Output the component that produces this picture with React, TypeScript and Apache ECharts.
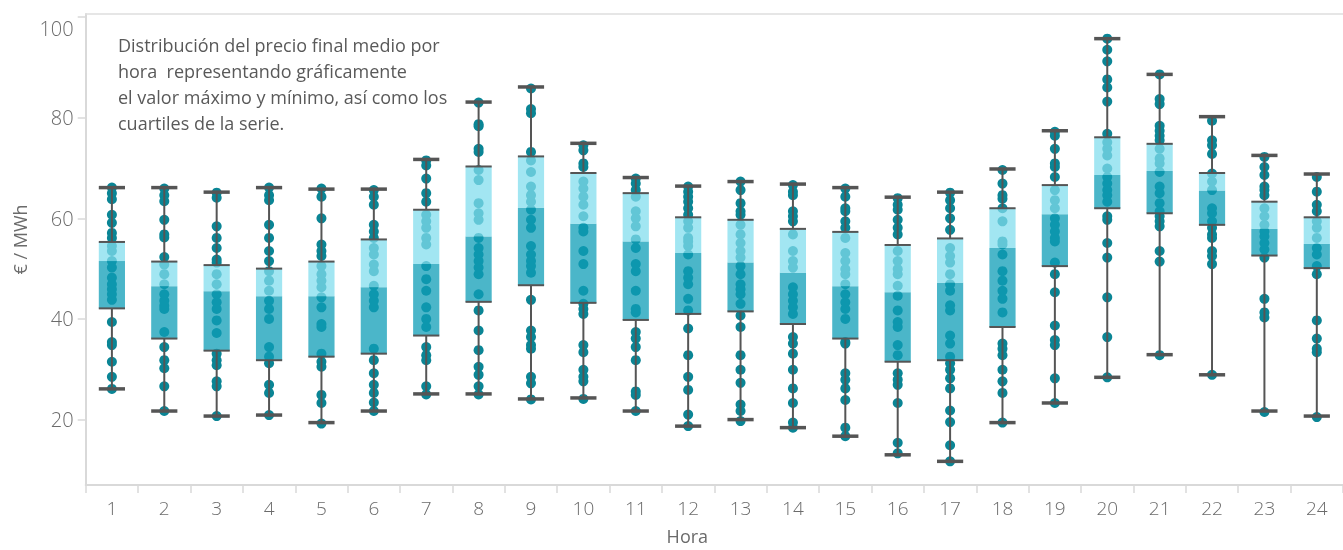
import React, { useEffect, useRef } from "react";
import * as echarts from "echarts";

const hours = ["1","2","3","4","5","6","7","8","9","10","11","12","13","14","15","16","17","18","19","20","21","22","23","24"];
const minVals = [26.1, 21.7, 20.7, 20.9, 19.4, 21.7, 25.1, 25.1, 24.1, 24.3, 21.7, 18.7, 20.0, 18.4, 16.7, 13.0, 11.7, 19.4, 23.3, 28.4, 32.9, 28.9, 21.7, 20.7];
const q1Vals = [42.1, 36.1, 33.7, 31.8, 32.5, 33.1, 36.7, 43.4, 46.7, 43.2, 39.8, 41.0, 41.5, 39.0, 36.1, 31.5, 31.8, 38.4, 50.5, 62.0, 61.0, 58.7, 52.6, 50.1];
const medianVals = [51.5, 46.5, 45.5, 44.5, 44.5, 46.3, 50.9, 56.4, 62.1, 58.9, 55.4, 53.1, 51.2, 49.2, 46.5, 45.3, 47.2, 54.1, 60.8, 68.6, 69.4, 65.5, 57.9, 54.9];
const q3Vals = [55.3, 51.4, 50.7, 50.0, 51.4, 55.8, 61.7, 70.3, 72.3, 69.0, 65.0, 60.2, 59.7, 57.9, 57.3, 54.7, 56.0, 62.0, 66.6, 76.1, 74.8, 69.0, 63.3, 60.2];
const maxVals = [66.1, 66.1, 65.2, 66.1, 65.8, 65.8, 71.7, 83.1, 86.1, 74.9, 68.1, 66.4, 67.3, 66.8, 66.1, 64.2, 65.2, 69.8, 77.4, 95.7, 88.6, 80.2, 72.5, 68.8];

const dotsByHour: number[][] = [
  [66.1, 65.0, 63.8, 60.7, 59.1, 57.1, 56.1, 54.5, 53.5, 51.5, 50.2, 48.2, 46.9, 45.9, 44.9, 43.8, 39.4, 35.4, 34.8, 31.5, 28.5, 26.1],
  [65.9, 64.6, 63.4, 59.7, 56.8, 56.2, 52.3, 50.8, 48.9, 46.9, 44.9, 43.6, 42.6, 42.0, 37.4, 34.4, 31.8, 30.2, 26.6, 21.7],
  [65.1, 64.1, 58.4, 56.1, 54.1, 51.8, 51.2, 48.9, 46.9, 44.9, 43.3, 42.0, 39.7, 37.2, 33.1, 31.8, 30.8, 27.6, 26.6, 20.7],
  [66.1, 64.6, 63.6, 58.7, 56.1, 53.5, 51.5, 49.5, 47.6, 45.6, 43.6, 42.0, 40.0, 34.4, 32.5, 31.2, 26.9, 25.3, 20.9],
  [65.9, 64.3, 60.0, 54.8, 53.5, 52.5, 50.5, 48.9, 47.6, 46.3, 44.3, 42.3, 39.0, 38.4, 33.1, 31.5, 30.5, 24.9, 23.3, 19.2],
  [65.6, 64.3, 62.7, 58.7, 57.4, 56.1, 54.1, 52.8, 50.8, 49.5, 46.6, 44.9, 43.6, 42.3, 34.1, 31.8, 29.2, 26.9, 25.3, 23.4, 21.7],
  [71.5, 70.5, 67.9, 65.0, 63.3, 60.7, 59.4, 58.1, 56.1, 54.8, 50.5, 47.9, 45.6, 42.3, 40.0, 38.4, 34.4, 32.8, 31.8, 26.6, 25.0],
  [83.0, 78.7, 78.3, 73.8, 73.2, 69.6, 67.6, 63.0, 61.0, 59.7, 56.1, 54.1, 52.8, 51.5, 50.2, 48.9, 44.9, 41.7, 37.7, 33.8, 30.5, 28.9, 26.6, 25.0],
  [85.8, 81.7, 80.9, 73.2, 71.5, 69.2, 66.3, 64.6, 63.3, 61.7, 59.7, 58.1, 54.5, 52.8, 51.5, 50.5, 49.2, 43.8, 37.7, 36.4, 34.8, 34.1, 28.5, 27.2, 24.0],
  [74.5, 73.5, 70.9, 70.2, 67.3, 65.9, 64.3, 62.7, 60.4, 58.1, 57.4, 53.5, 50.9, 45.6, 43.0, 42.0, 41.0, 34.8, 33.4, 29.9, 28.5, 27.6, 24.1],
  [67.9, 66.9, 65.6, 64.3, 61.4, 60.0, 58.4, 55.8, 54.1, 50.9, 49.5, 45.6, 42.0, 41.3, 37.4, 36.1, 34.4, 31.8, 25.6, 24.9, 21.7],
  [66.3, 65.3, 64.3, 63.3, 62.0, 60.7, 59.4, 58.1, 56.1, 55.4, 54.5, 52.8, 49.5, 48.2, 46.9, 44.0, 41.7, 38.1, 32.8, 28.5, 25.9, 21.0, 18.7],
  [67.3, 65.6, 63.0, 61.4, 60.7, 58.7, 56.8, 55.1, 53.5, 52.2, 50.5, 48.9, 46.9, 45.9, 44.9, 43.0, 40.7, 38.4, 32.8, 29.9, 27.3, 23.0, 21.7, 19.7],
  [66.6, 65.3, 64.6, 61.4, 60.4, 59.4, 56.8, 53.5, 51.5, 50.2, 46.3, 44.9, 43.6, 42.3, 41.0, 36.4, 35.1, 33.1, 29.9, 26.2, 23.3, 19.4, 18.4],
  [65.9, 64.3, 62.0, 61.4, 59.4, 58.1, 56.1, 53.1, 51.5, 49.9, 48.9, 46.9, 44.9, 43.3, 42.0, 40.0, 35.4, 35.1, 29.2, 27.9, 26.2, 23.9, 18.4, 16.7],
  [64.0, 62.7, 61.7, 59.7, 58.1, 56.8, 53.5, 51.5, 49.9, 48.9, 46.6, 44.6, 41.7, 39.4, 38.4, 34.8, 32.8, 29.2, 27.9, 26.9, 23.3, 15.4, 13.3],
  [65.1, 63.6, 62.0, 60.0, 57.7, 54.1, 52.5, 51.2, 48.9, 46.9, 45.6, 42.7, 41.7, 36.7, 35.1, 32.5, 31.2, 29.9, 28.2, 26.2, 21.8, 19.5, 14.9, 11.7],
  [69.6, 66.9, 64.6, 63.9, 62.0, 59.4, 55.4, 54.8, 52.8, 49.5, 47.6, 45.6, 44.0, 41.3, 35.1, 34.1, 32.8, 29.9, 27.6, 25.3, 19.4],
  [77.2, 76.4, 73.8, 70.9, 70.2, 68.2, 65.6, 63.6, 62.0, 60.0, 58.7, 57.4, 56.1, 55.4, 51.2, 48.9, 45.3, 38.7, 35.8, 34.8, 28.2, 23.3],
  [95.7, 93.5, 91.2, 87.6, 86.0, 83.2, 76.8, 75.1, 73.8, 72.5, 69.9, 68.2, 66.9, 65.6, 64.6, 63.3, 60.4, 59.7, 55.1, 52.2, 44.3, 36.4, 28.4],
  [88.6, 83.7, 82.7, 78.4, 77.4, 76.4, 75.5, 73.8, 71.9, 70.9, 69.2, 66.3, 65.0, 63.0, 61.4, 60.4, 59.4, 58.4, 53.5, 51.4, 32.8],
  [79.4, 75.5, 74.5, 72.8, 68.9, 67.3, 65.6, 62.0, 61.0, 59.4, 58.1, 56.8, 56.1, 53.5, 52.5, 50.9, 28.9],
  [72.2, 70.2, 68.6, 66.3, 65.6, 64.6, 62.0, 60.4, 58.7, 57.4, 56.4, 55.1, 53.8, 52.2, 44.0, 41.3, 40.3, 21.5],
  [68.2, 65.3, 62.7, 61.4, 59.4, 58.1, 56.1, 54.1, 52.8, 50.5, 48.9, 39.7, 36.1, 34.1, 33.4, 20.5],
];

const yTicks = [20, 40, 60, 80, 100];
const noteLines = [
  "Distribución del precio final medio por",
  "hora  representando gráficamente",
  "el valor máximo y mínimo, así como los",
  "cuartiles de la serie.",
];

const FONT = "'Open Sans', Roboto, sans-serif";
const AXIS_TEXT = "#6b6b6b";
const WHISKER = "#555555";

export default function App() {
  const ref = useRef<HTMLDivElement>(null);

  useEffect(() => {
    if (!ref.current) return;
    const chart = echarts.init(ref.current, undefined, { renderer: "svg" });

    const boxData = hours.map((_, i) => [i, minVals[i], q1Vals[i], medianVals[i], q3Vals[i], maxVals[i]]);
    const dotData: number[][] = [];
    dotsByHour.forEach((arr, i) => arr.forEach((v) => dotData.push([i, v])));

    const renderItem = (params: any, api: any) => {
      const x = api.value(0);
      const pMin = api.coord([x, api.value(1)]);
      const pQ1 = api.coord([x, api.value(2)]);
      const pMed = api.coord([x, api.value(3)]);
      const pQ3 = api.coord([x, api.value(4)]);
      const pMax = api.coord([x, api.value(5)]);
      const bw = api.size([1, 0])[0] * 0.5;
      const cx = pMed[0];
      const left = cx - bw / 2;
      const right = cx + bw / 2;
      return {
        type: "group",
        children: [
          { type: "line", shape: { x1: cx, y1: pMin[1], x2: cx, y2: pQ1[1] }, style: { stroke: WHISKER, lineWidth: 2 } },
          { type: "line", shape: { x1: cx, y1: pQ3[1], x2: cx, y2: pMax[1] }, style: { stroke: WHISKER, lineWidth: 2 } },
          { type: "rect", shape: { x: left, y: pMed[1], width: bw, height: pQ1[1] - pMed[1] }, style: { fill: "rgba(15,157,183,0.75)" } },
          { type: "rect", shape: { x: left, y: pQ3[1], width: bw, height: pMed[1] - pQ3[1] }, style: { fill: "rgba(130,221,237,0.74)" } },
          { type: "line", shape: { x1: left, y1: pQ1[1], x2: right, y2: pQ1[1] }, style: { stroke: WHISKER, lineWidth: 2 } },
          { type: "line", shape: { x1: left, y1: pQ3[1], x2: right, y2: pQ3[1] }, style: { stroke: WHISKER, lineWidth: 2 } },
          { type: "line", shape: { x1: left, y1: pMin[1], x2: right, y2: pMin[1] }, style: { stroke: WHISKER, lineWidth: 3.5 } },
          { type: "line", shape: { x1: left, y1: pMax[1], x2: right, y2: pMax[1] }, style: { stroke: WHISKER, lineWidth: 3.5 } },
        ],
      };
    };

    chart.setOption({
      animation: false,
      grid: { left: 85.7, right: -9, top: 14, bottom: 59.3, containLabel: false },
      xAxis: [
        {
          type: "category",
          data: hours,
          boundaryGap: true,
          name: "Hora",
          nameLocation: "middle",
          nameGap: 42,
          nameTextStyle: { color: AXIS_TEXT, fontSize: 18, fontFamily: FONT, padding: [0, 54, 0, 0] },
          axisLine: { show: true, lineStyle: { color: "#d9d9d9", width: 2 } },
          axisTick: { show: true, length: 8, lineStyle: { color: "#d9d9d9", width: 1.5 } },
          axisLabel: { color: AXIS_TEXT, fontSize: 19, fontWeight: 300, fontFamily: FONT, margin: 13 },
          splitLine: { show: false },
        },
        {
          type: "category",
          data: hours,
          position: "top",
          axisLine: { show: true, lineStyle: { color: "#dedede", width: 1.5 } },
          axisTick: { show: false },
          axisLabel: { show: false },
        },
      ],
      yAxis: {
        type: "value",
        min: 7,
        max: 100.6,
        name: "€ / MWh",
        nameLocation: "middle",
        nameGap: 54,
        nameRotate: 90,
        nameTextStyle: { color: AXIS_TEXT, fontSize: 18, fontFamily: FONT, padding: [0, 0, 0, 20] },
        axisLine: { show: true, lineStyle: { color: "#d9d9d9", width: 2 } },
        axisTick: { show: true, length: 8, customValues: yTicks, lineStyle: { color: "#d9d9d9", width: 1.5 } },
        axisLabel: {
          show: true,
          customValues: yTicks,
          color: AXIS_TEXT,
          fontSize: 20,
          fontWeight: 300,
          fontFamily: FONT,
          margin: 12,
          formatter: (v: number) => (v === 100 ? "{top|100}" : String(v)),
          rich: { top: { color: AXIS_TEXT, fontSize: 20, fontWeight: 300, fontFamily: FONT, padding: [22, 0, 0, 0] } },
        },
        splitLine: { show: false },
      },
      graphic: [
        {
          type: "text",
          left: 118,
          top: 32,
          style: {
            text: noteLines.join("\n"),
            fill: "#595959",
            fontSize: 18,
            lineHeight: 26,
            fontFamily: FONT,
          },
        },
      ],
      series: [
        {
          type: "scatter",
          data: dotData,
          symbolSize: 10,
          itemStyle: { color: "#0a8595", opacity: 1 },
          z: 2,
          silent: true,
        },
        {
          type: "custom",
          data: boxData,
          renderItem,
          encode: { x: 0, y: [1, 2, 3, 4, 5] },
          z: 3,
          silent: true,
        },
      ],
    });

    return () => chart.dispose();
  }, []);

  return <div ref={ref} style={{ position: "fixed", left: 0, top: 0, width: 1343, height: 550 }} />;
}
